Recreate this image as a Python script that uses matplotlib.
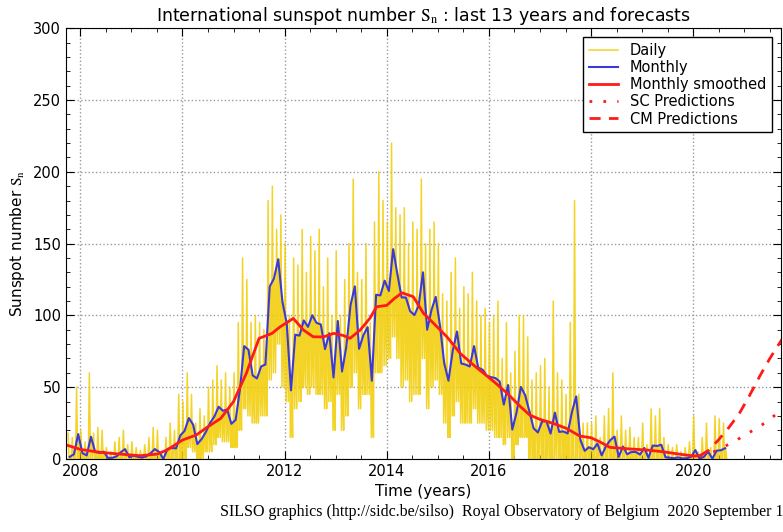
import numpy as np
import matplotlib
matplotlib.use('Agg')
import matplotlib.pyplot as plt
from matplotlib.ticker import MultipleLocator

plt.rcParams['mathtext.fontset'] = 'stix'

# monthly mean sunspot number, Oct 2007 .. Aug 2020
monthly = [1.5, 3.3, 17.3,
           4.1, 2.5, 15.5, 4.9, 4.3, 5.1, 0.8, 0.8, 1.8, 4.7, 6.9, 1.3,
           2.3, 1.5, 1.0, 1.8, 4.0, 6.9, 5.0, 0.0, 7.1, 7.7, 7.4, 16.4,
           19.6, 28.5, 24.0, 10.4, 13.9, 18.8, 25.2, 29.6, 36.4, 33.6, 34.4, 24.5,
           27.3, 48.3, 78.6, 76.1, 58.2, 56.1, 64.5, 65.8, 120.1, 125.7, 139.1, 109.3,
           94.4, 47.8, 86.6, 85.9, 96.5, 92.0, 100.1, 94.8, 93.7, 76.5, 87.6, 56.8,
           96.1, 60.9, 78.3, 107.3, 120.2, 76.7, 86.2, 91.8, 54.5, 114.4, 113.9, 124.2,
           117.0, 146.1, 128.7, 112.5, 112.5, 102.9, 100.2, 106.9, 130.0, 90.0, 103.6, 112.9,
           93.0, 66.7, 54.5, 75.3, 88.8, 66.5, 65.8, 64.4, 78.6, 63.6, 62.2, 58.0,
           57.0, 56.4, 54.1, 37.9, 51.5, 20.5, 32.4, 50.2, 44.6, 33.4, 21.4, 18.5,
           26.1, 26.4, 17.7, 32.3, 18.9, 19.2, 17.8, 32.6, 43.6, 13.2, 5.7, 8.2,
           6.8, 10.7, 2.5, 8.9, 13.1, 15.6, 1.6, 8.7, 3.3, 4.9, 4.9, 3.1,
           7.7, 0.8, 9.4, 9.1, 9.9, 1.2, 0.9, 0.5, 1.1, 0.4, 0.5, 1.5,
           6.2, 0.2, 1.5, 5.2, 0.2, 5.8, 6.1, 7.5]

# highest / lowest daily value seen in each month
daily_hi = [18, 15, 50,
            20, 12, 60, 18, 22, 20, 8, 5, 12, 15, 20, 10,
            12, 8, 6, 10, 15, 22, 20, 5, 15, 25, 20, 45,
            40, 60, 45, 25, 35, 30, 50, 55, 65, 55, 60, 50,
            60, 95, 140, 125, 95, 100, 95, 90, 180, 190, 160, 170,
            150, 100, 140, 135, 160, 130, 155, 145, 160, 120, 140, 100,
            145, 100, 125, 150, 195, 130, 125, 150, 95, 165, 200, 180,
            165, 220, 175, 170, 175, 150, 165, 160, 195, 150, 160, 165,
            150, 115, 110, 130, 140, 105, 120, 115, 130, 110, 100, 105,
            95, 100, 110, 70, 95, 60, 75, 100, 100, 85, 55, 60,
            65, 70, 50, 110, 60, 55, 45, 95, 180, 45, 25, 25,
            25, 30, 15, 30, 35, 60, 20, 30, 20, 22, 15, 15,
            25, 10, 35, 30, 35, 15, 10, 8, 10, 5, 8, 12,
            30, 5, 15, 25, 8, 30, 28, 25]
daily_lo = [0, 0, 0,
            0, 0, 0, 0, 0, 0, 0, 0, 0, 0, 0, 0,
            0, 0, 0, 0, 0, 0, 0, 0, 0, 0, 0, 0,
            0, 8, 5, 0, 0, 5, 5, 10, 15, 12, 12, 8,
            8, 20, 35, 30, 25, 25, 30, 30, 55, 60, 80, 50,
            40, 15, 35, 40, 50, 45, 50, 45, 45, 35, 40, 20,
            45, 20, 30, 50, 60, 35, 45, 45, 15, 60, 60, 65,
            70, 85, 70, 50, 55, 40, 45, 45, 70, 35, 50, 55,
            45, 25, 15, 30, 40, 25, 25, 25, 35, 25, 25, 20,
            20, 15, 15, 10, 15, 0, 10, 15, 15, 0, 0, 0,
            0, 0, 0, 0, 0, 0, 0, 0, 0, 0, 0, 0,
            0, 0, 0, 0, 0, 0, 0, 0, 0, 0, 0, 0,
            0, 0, 0, 0, 0, 0, 0, 0, 0, 0, 0, 0,
            0, 0, 0, 0, 0, 0, 0, 0]

# 13-month smoothed
smooth_t = [2007.73, 2008.0, 2008.4, 2008.85, 2009.17, 2009.5, 2009.7, 2010.0, 2010.27,
            2010.5, 2010.75, 2011.0, 2011.25, 2011.5, 2011.75, 2011.91, 2012.17, 2012.37,
            2012.56, 2012.76, 2012.96, 2013.15, 2013.28, 2013.48, 2013.67, 2013.8, 2014.0,
            2014.15, 2014.3, 2014.52, 2014.72, 2014.92, 2015.18, 2015.44, 2015.7, 2015.9,
            2016.1, 2016.36, 2016.62, 2016.8, 2017.0, 2017.26, 2017.52, 2017.78, 2018.0,
            2018.17, 2018.37, 2018.76, 2019.08, 2019.4, 2019.71, 2020.0, 2020.13]
smooth_v = [9.7, 6.7, 4.6, 3.2, 2.3, 3.4, 6.3, 13.2, 16.7,
            22.5, 28.3, 40.0, 59.6, 84.0, 87.4, 92.0, 97.9, 89.8,
            85.1, 85.0, 87.5, 86.0, 84.0, 89.8, 98.0, 106.0, 107.0,
            111.8, 115.7, 113.0, 101.4, 94.4, 85.0, 73.5, 65.4, 59.6,
            53.8, 45.7, 36.4, 30.6, 27.6, 24.8, 21.3, 16.0, 14.8,
            12.0, 8.1, 7.0, 6.3, 5.1, 3.5, 2.1, 2.3]

# forecasts
sc_t = [2020.13, 2020.4, 2020.6, 2020.8, 2021.0, 2021.2, 2021.4, 2021.6, 2021.75]
sc_v = [2.3, 5.0, 8.5, 12.0, 16.5, 20.5, 25.0, 30.5, 34.5]
cm_t = [2020.13, 2020.3, 2020.5, 2020.7, 2020.9, 2021.1, 2021.3, 2021.5, 2021.75]
cm_v = [2.3, 6.0, 13.5, 22.0, 31.5, 44.0, 57.5, 70.0, 84.0]

n = len(monthly)
t_month = 2007.75 + (np.arange(n) + 0.5) / 12.
# daily trace drawn as a zigzag: high, low, monthly level, low within each month
t_daily = np.empty(4 * n)
v_daily = np.empty(4 * n)
for k, frac in enumerate([0.125, 0.375, 0.625, 0.875]):
    t_daily[k::4] = 2007.75 + (np.arange(n) + frac) / 12.
v_daily[0::4] = daily_hi
v_daily[1::4] = daily_lo
v_daily[2::4] = monthly
v_daily[3::4] = daily_lo

fig = plt.figure(figsize=(7.83, 5.32), dpi=100)
ax = fig.add_axes([0.0843, 0.1372, 0.9132, 0.8098])

ax.plot(t_daily, v_daily, color='#f2cc00', lw=1.1, alpha=0.85, label='Daily')
ax.plot(t_month, monthly, color='#3a3ad6', lw=1.5, label='Monthly')
ax.plot(smooth_t, smooth_v, color='#ff1a1a', lw=2.0, label='Monthly smoothed')
ax.plot(sc_t, sc_v, color='#ff1a1a', lw=2.0, ls=(0, (1, 4)), label='SC Predictions')
ax.plot(cm_t, cm_v, color='#ff1a1a', lw=2.0, ls=(0, (4, 3)), label='CM Predictions')

ax.set_xlim(2007.72, 2021.72)
ax.set_ylim(0, 300)
ax.xaxis.set_major_locator(MultipleLocator(2))
ax.xaxis.set_minor_locator(MultipleLocator(0.5))
ax.yaxis.set_major_locator(MultipleLocator(50))
ax.yaxis.set_minor_locator(MultipleLocator(10))
ax.tick_params(which='both', direction='in', top=True, right=True, labelsize=10.5)
ax.tick_params(which='major', length=6)
ax.tick_params(which='minor', length=3)
ax.grid(True, which='major', ls=':', color='#999999', lw=1.0)
ax.set_axisbelow(True)

ax.set_title(r'International sunspot number $\mathrm{S_n}$ : last 13 years and forecasts',
             fontsize=12.5, pad=5)
ax.set_xlabel('Time (years)', fontsize=11)
ax.set_ylabel(r'Sunspot number $\mathrm{S_n}$', fontsize=11)

leg = ax.legend(loc='upper right', fontsize=10.5, fancybox=False, framealpha=1,
                borderaxespad=0.6, handlelength=2.0, labelspacing=0.15)
leg.get_frame().set_edgecolor('black')

fig.text(0.281, 0.022, 'SILSO graphics (http://sidc.be/silso)  Royal Observatory of Belgium  2020 September 1',
         family='Liberation Serif', fontsize=11.5, ha='left', va='bottom')

fig.savefig('out.png', dpi=100)
